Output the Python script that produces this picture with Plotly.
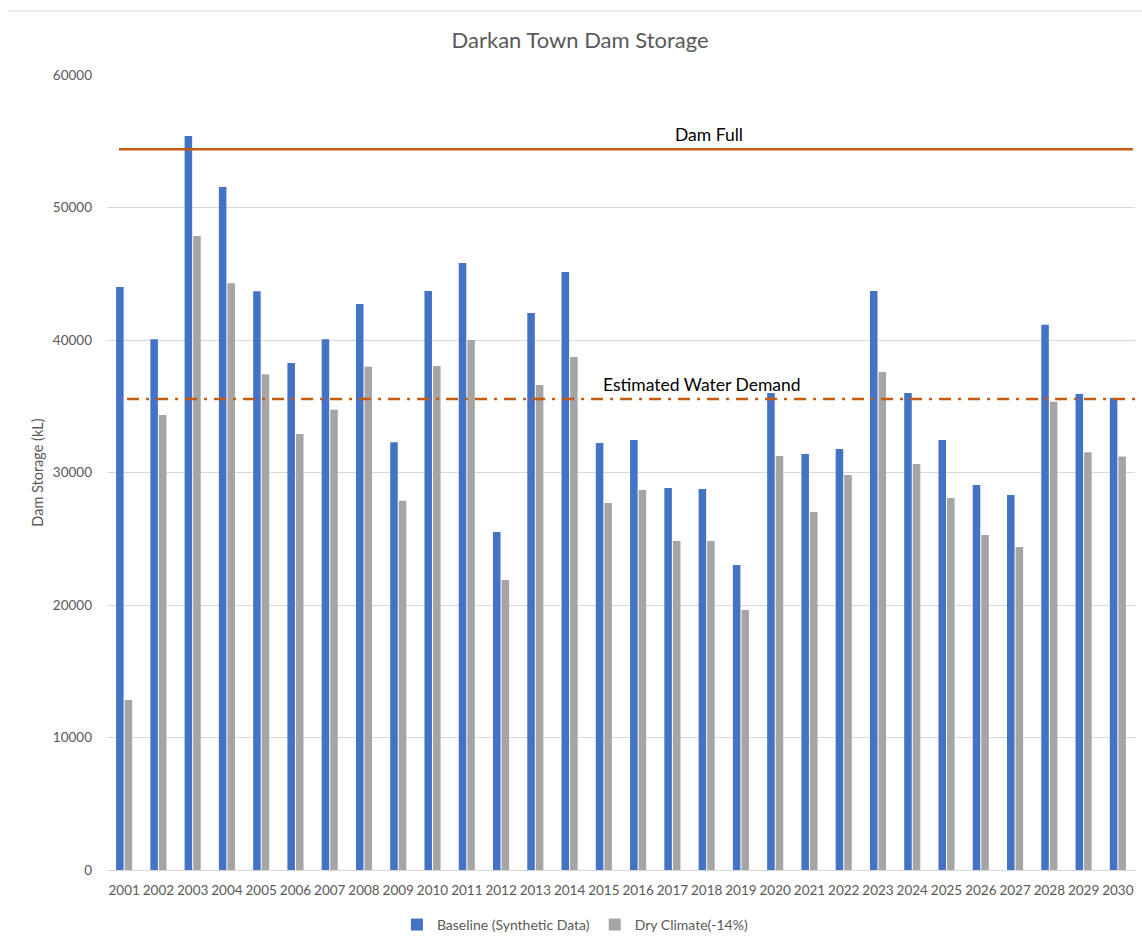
import plotly.graph_objects as go

years = [str(y) for y in range(2001, 2031)]
baseline = [44000, 40050, 55400, 51550, 43680, 38260, 40050, 42720, 32280, 43700,
            45810, 25510, 42040, 45130, 32230, 32450, 28830, 28750, 23020, 36000,
            31400, 31770, 43700, 36000, 32450, 29060, 28300, 41150, 35930, 35620]
dry_climate = [12830, 34340, 47850, 44280, 37410, 32900, 34740, 37990, 27870, 38040,
               40000, 21890, 36600, 38720, 27700, 28680, 24830, 24830, 19620, 31250,
               27020, 29810, 37580, 30640, 28080, 25280, 24380, 35340, 31530, 31210]
dam_full = 54400
water_demand = 35550

font_family = "Lato, 'Open Sans', sans-serif"
label_grey = "#595959"
orange = "#C55A11"

fig = go.Figure()
fig.add_trace(go.Bar(x=years, y=baseline, name="Baseline (Synthetic Data)",
                     marker=dict(color="#4472C4", line=dict(width=0))))
fig.add_trace(go.Bar(x=years, y=dry_climate, name="Dry Climate(-14%)",
                     marker=dict(color="#A5A5A5", line=dict(width=0))))

# Reference levels
fig.add_shape(type="line", xref="paper", yref="y", x0=0.0117, x1=0.998,
              y0=dam_full, y1=dam_full, line=dict(color=orange, width=2.5))
fig.add_shape(type="line", xref="paper", yref="y", x0=0.0195, x1=1.007,
              y0=water_demand, y1=water_demand,
              line=dict(color=orange, width=2.5, dash="12px,7px,3px,7px"))
fig.add_annotation(text="Dam Full", xref="paper", yref="y", x=0.586, y=dam_full,
                   yshift=15, showarrow=False,
                   font=dict(family=font_family, size=17.5, color="#000000"))
fig.add_annotation(text="Estimated Water Demand", xref="paper", yref="y", x=0.579,
                   y=water_demand, yshift=14, showarrow=False,
                   font=dict(family=font_family, size=17.5, color="#000000"))

# Thin frame line along the top of the chart area
fig.add_shape(type="line", xref="paper", yref="paper", x0=-0.096, x1=1.01,
              y0=1.0805, y1=1.0805, line=dict(color="#D9D9D9", width=1))

fig.update_layout(
    width=1142, height=943,
    margin=dict(l=107, r=7, t=75, b=73, autoexpand=False),
    paper_bgcolor="white", plot_bgcolor="white",
    font=dict(family=font_family, color=label_grey, size=13.5),
    title=dict(text="Darkan Town Dam Storage", x=0.508, xanchor="center",
               y=0.957, yanchor="middle",
               font=dict(family=font_family, size=22, color=label_grey)),
    bargap=0.5, bargroupgap=0.12,
    showlegend=True,
    legend=dict(orientation="h", x=0.282, xanchor="left", y=-0.049, yanchor="top",
                font=dict(family=font_family, size=14, color=label_grey),
                itemwidth=30),
)
fig.update_xaxes(type="category", showgrid=False, showline=True, linecolor="#D9D9D9",
                 linewidth=1, ticks="", ticklabelstandoff=8,
                 tickfont=dict(size=13.5, color=label_grey))
fig.update_yaxes(range=[0, 60000], dtick=10000, showgrid=True, gridcolor="#D9D9D9",
                 gridwidth=1, zeroline=False, showline=False, tickformat="d",
                 ticks="", ticklabelstandoff=14,
                 title=dict(text="Dam Storage (kL)", standoff=5,
                            font=dict(size=14.5, color=label_grey)),
                 tickfont=dict(size=13.5, color=label_grey))

fig.write_html("out.html")
